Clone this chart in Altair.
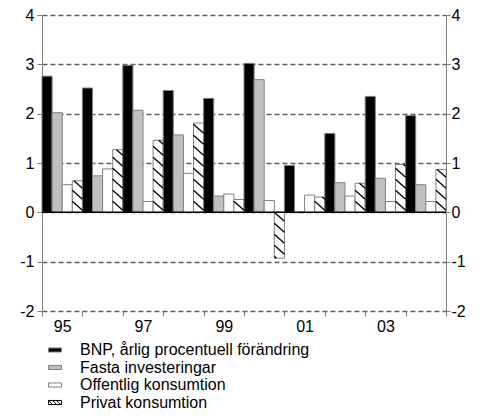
import altair as alt
import pandas as pd

# Year labels (1995-2004) and the four growth series, per cent
years = ["95", "96", "97", "98", "99", "00", "01", "02", "03", "04"]
series = ["BNP, årlig procentuell förändring", "Fasta investeringar",
          "Offentlig konsumtion", "Privat konsumtion"]
bnp = [2.76, 2.52, 2.98, 2.47, 2.31, 3.02, 0.95, 1.60, 2.35, 1.96]
fasta = [2.02, 0.74, 2.07, 1.57, 0.33, 2.69, 0.0, 0.60, 0.69, 0.56]
offentlig = [0.56, 0.88, 0.22, 0.79, 0.37, 0.24, 0.35, 0.33, 0.22, 0.22]
privat = [0.64, 1.27, 1.46, 1.81, 0.26, -0.93, 0.31, 0.59, 0.97, 0.87]
y_ticks = [-2, -1, 0, 1, 2, 3, 4]

values_by_series = [bnp, fasta, offentlig, privat]
fills = ["#000000", "#c0c0c0", "#ffffff", "#ffffff"]

W, H = 404, 296
Y_MIN, Y_MAX = -2, 4
PX_PER_UNIT = H / (Y_MAX - Y_MIN)
BAR = 1 / len(series)

rows = []
for i, yr in enumerate(years):
    for j, name in enumerate(series):
        rows.append({"year": yr, "serie": name, "x0": i + j * BAR,
                     "x1": i + (j + 1) * BAR, "value": values_by_series[j][i], "zero": 0})
bars = pd.DataFrame(rows)

# Diagonal hatch segments for the "Privat konsumtion" bars, clipped to each bar
SPACING = 11 / PX_PER_UNIT
DROP = 9 / PX_PER_UNIT
segs = []
for r in rows:
    if r["serie"] != series[3]:
        continue
    lo, hi = min(0, r["value"]), max(0, r["value"])
    k = int(lo // SPACING) - 1
    while k * SPACING <= hi + DROP + SPACING:
        c = k * SPACING
        t0 = max(0.0, (c - hi) / DROP)
        t1 = min(1.0, (c - lo) / DROP)
        if t1 - t0 > 1e-6:
            segs.append({"xa": r["x0"] + t0 * BAR, "xb": r["x0"] + t1 * BAR,
                         "ya": c - DROP * t0, "yb": c - DROP * t1})
        k += 1
hatch = pd.DataFrame(segs)

xscale = alt.Scale(domain=[0, len(years)], nice=False, zero=False)
yscale = alt.Scale(domain=[Y_MIN, Y_MAX], nice=False)
label_expr = ("datum.value < %d && datum.value %% 2 == 0 ? [%s][datum.value] : ''"
              % (len(years), ",".join("'%s'" % y for y in years)))

FONT = "Liberation Sans"
FS = 16
GRAY = "#808080"

x_axis = alt.Axis(values=list(range(len(years) + 1)), labelExpr=label_expr,
                  labelOffset=W / len(years) / 2, labelFlush=False,
                  grid=False, domain=False, tickColor=GRAY, tickSize=5,
                  labelFontSize=FS, labelFont=FONT, labelColor="#000000",
                  labelPadding=2)


def y_axis(side, grid, tick, pad):
    return alt.Axis(values=y_ticks, orient=side, grid=grid, gridDash=[5, 3],
                    gridColor="#606060", gridWidth=1.5, domainColor=GRAY,
                    tickColor=GRAY, tickSize=tick, labelFontSize=FS, labelFont=FONT,
                    labelColor="#000000", labelPadding=pad,
                    labelExpr="toString(datum.value)")


bar_layer = alt.Chart(bars).mark_rect(stroke=GRAY, strokeWidth=1).encode(
    x=alt.X("x0:Q", scale=xscale, title=None, axis=x_axis),
    x2="x1:Q",
    y=alt.Y("value:Q", scale=yscale, title=None, axis=y_axis("left", True, 5, 3)),
    y2="zero:Q",
    fill=alt.Fill("serie:N", scale=alt.Scale(domain=series, range=fills), legend=None),
)

hatch_layer = alt.Chart(hatch).mark_rule(color="#000000", strokeWidth=1.3).encode(
    x=alt.X("xa:Q", scale=xscale, title=None, axis=x_axis),
    x2="xb:Q",
    y=alt.Y("ya:Q", scale=yscale, axis=None),
    y2="yb:Q",
)

zero_layer = alt.Chart(pd.DataFrame({"v": [0]})).mark_rule(
    color="#000000", strokeWidth=1.5).encode(
    y=alt.Y("v:Q", scale=yscale, title=None, axis=y_axis("right", False, 4, 1)),
)

# Legend symbols: wide rectangles, the last one hatched
rect_path = "M-1.6,-0.5H1.6V0.5H-1.6Z"
hatch_path = (rect_path + "M-1.6,-0.5L-0.6,0.5M-0.6,-0.5L0.4,0.5"
              "M0.4,-0.5L1.4,0.5M1.4,-0.5L1.6,-0.3M-1.6,0.3L-1.4,0.5")
legend_props = dict(title=None, orient="none", legendX=5, legendY=327,
                    direction="vertical", labelFont=FONT, labelFontSize=FS,
                    labelColor="#000000", labelOffset=17, labelLimit=0, rowPadding=1.5,
                    symbolSize=66, symbolStrokeWidth=1, symbolOpacity=1)
legend_layer = alt.Chart(pd.DataFrame({"namn": series})).mark_point(
    filled=True, size=66, opacity=0, strokeWidth=1).encode(
    fill=alt.Fill("namn:N", scale=alt.Scale(domain=series, range=fills),
                  legend=alt.Legend(**legend_props)),
    shape=alt.Shape("namn:N", scale=alt.Scale(domain=series,
                    range=[rect_path, rect_path, rect_path, hatch_path]),
                    legend=alt.Legend(**legend_props)),
    stroke=alt.Stroke("namn:N", scale=alt.Scale(domain=series,
                      range=[GRAY, GRAY, GRAY, "#000000"]),
                      legend=alt.Legend(**legend_props)),
)

chart = alt.layer(bar_layer, hatch_layer, zero_layer, legend_layer).resolve_axis(
    y="independent"
).resolve_scale(
    fill="independent", shape="independent", stroke="independent"
).properties(
    width=W, height=H,
    autosize=alt.AutoSizeParams(type="none"),
    padding={"left": 42, "top": 15, "right": 39, "bottom": 109},
).configure_view(stroke=None)

chart.save("out.html", embed_options={"renderer": "svg", "actions": False})
